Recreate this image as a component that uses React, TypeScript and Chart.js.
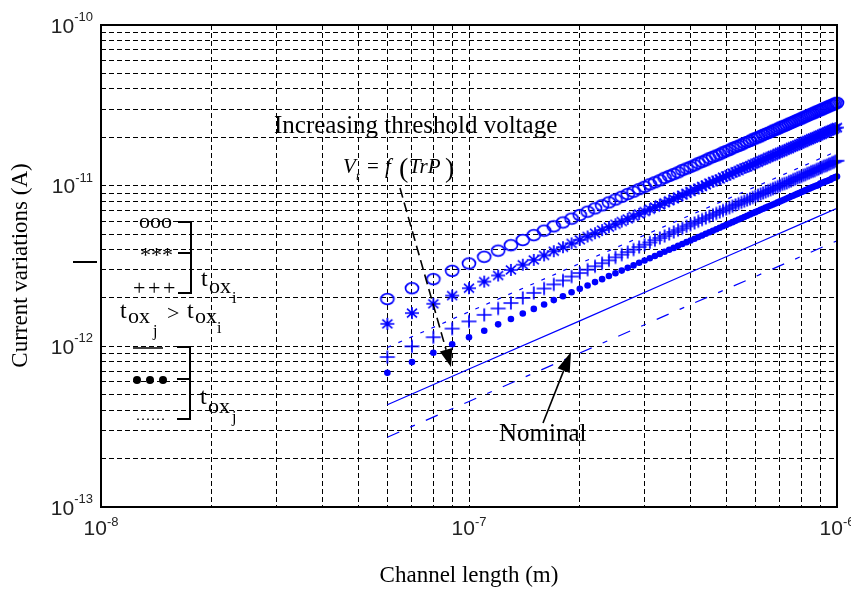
import React, { useEffect, useRef } from 'react';
import { Chart, registerables } from 'chart.js';

Chart.register(...registerables);

// ---- Data (channel length in nm, current in pA) ----
const channelLengthNm = [
  60, 70, 80, 90, 100, 110, 120, 130, 140, 150,
  160, 170, 180, 190, 200, 210, 220, 230, 240, 250,
  260, 270, 280, 290, 300, 310, 320, 330, 340, 350,
  360, 370, 380, 390, 400, 410, 420, 430, 440, 450,
  460, 470, 480, 490, 500, 510, 520, 530, 540, 550,
  560, 570, 580, 590, 600, 610, 620, 630, 640, 650,
  660, 670, 680, 690, 700, 710, 720, 730, 740, 750,
  760, 770, 780, 790, 800, 810, 820, 830, 840, 850,
  860, 870, 880, 890, 900, 910, 920, 930, 940, 950,
  960, 970, 980, 990, 1000,
];

const circlesPa = [
  1.97, 2.30, 2.62, 2.95, 3.28, 3.61, 3.94, 4.26, 4.59, 4.92,
  5.25, 5.58, 5.90, 6.23, 6.56, 6.89, 7.22, 7.54, 7.87, 8.20,
  8.53, 8.86, 9.18, 9.51, 9.84, 10.2, 10.5, 10.8, 11.2, 11.5,
  11.8, 12.1, 12.5, 12.8, 13.1, 13.4, 13.8, 14.1, 14.4, 14.8,
  15.1, 15.4, 15.7, 16.1, 16.4, 16.7, 17.1, 17.4, 17.7, 18.0,
  18.4, 18.7, 19.0, 19.4, 19.7, 20.0, 20.3, 20.7, 21.0, 21.3,
  21.6, 22.0, 22.3, 22.6, 23.0, 23.3, 23.6, 23.9, 24.3, 24.6,
  24.9, 25.3, 25.6, 25.9, 26.2, 26.6, 26.9, 27.2, 27.6, 27.9,
  28.2, 28.5, 28.9, 29.2, 29.5, 29.8, 30.2, 30.5, 30.8, 31.2,
  31.5, 31.8, 32.1, 32.5, 32.8,
];

const starsPa = [
  1.38, 1.61, 1.84, 2.07, 2.30, 2.53, 2.76, 2.99, 3.22, 3.45,
  3.68, 3.91, 4.14, 4.37, 4.60, 4.83, 5.06, 5.29, 5.52, 5.75,
  5.98, 6.21, 6.44, 6.67, 6.90, 7.13, 7.36, 7.59, 7.82, 8.05,
  8.28, 8.51, 8.74, 8.97, 9.20, 9.43, 9.66, 9.89, 10.1, 10.4,
  10.6, 10.8, 11.0, 11.3, 11.5, 11.7, 12.0, 12.2, 12.4, 12.7,
  12.9, 13.1, 13.3, 13.6, 13.8, 14.0, 14.3, 14.5, 14.7, 15.0,
  15.2, 15.4, 15.6, 15.9, 16.1, 16.3, 16.6, 16.8, 17.0, 17.3,
  17.5, 17.7, 17.9, 18.2, 18.4, 18.6, 18.9, 19.1, 19.3, 19.6,
  19.8, 20.0, 20.2, 20.5, 20.7, 20.9, 21.2, 21.4, 21.6, 21.9,
  22.1, 22.3, 22.5, 22.8, 23.0,
];

const plusPa = [
  0.858, 1.00, 1.14, 1.29, 1.43, 1.57, 1.72, 1.86, 2.00, 2.15,
  2.29, 2.43, 2.57, 2.72, 2.86, 3.00, 3.15, 3.29, 3.43, 3.58,
  3.72, 3.86, 4.00, 4.15, 4.29, 4.43, 4.58, 4.72, 4.86, 5.01,
  5.15, 5.29, 5.43, 5.58, 5.72, 5.86, 6.01, 6.15, 6.29, 6.44,
  6.58, 6.72, 6.86, 7.01, 7.15, 7.29, 7.44, 7.58, 7.72, 7.87,
  8.01, 8.15, 8.29, 8.44, 8.58, 8.72, 8.87, 9.01, 9.15, 9.30,
  9.44, 9.58, 9.72, 9.87, 10.0, 10.2, 10.3, 10.4, 10.6, 10.7,
  10.9, 11.0, 11.2, 11.3, 11.4, 11.6, 11.7, 11.9, 12.0, 12.2,
  12.3, 12.4, 12.6, 12.7, 12.9, 13.0, 13.2, 13.3, 13.4, 13.6,
  13.7, 13.9, 14.0, 14.2, 14.3,
];

const dotsPa = [
  0.684, 0.798, 0.912, 1.03, 1.14, 1.25, 1.37, 1.48, 1.60, 1.71,
  1.82, 1.94, 2.05, 2.17, 2.28, 2.39, 2.51, 2.62, 2.74, 2.85,
  2.96, 3.08, 3.19, 3.31, 3.42, 3.53, 3.65, 3.76, 3.88, 3.99,
  4.10, 4.22, 4.33, 4.45, 4.56, 4.67, 4.79, 4.90, 5.02, 5.13,
  5.24, 5.36, 5.47, 5.59, 5.70, 5.81, 5.93, 6.04, 6.16, 6.27,
  6.38, 6.50, 6.61, 6.73, 6.84, 6.95, 7.07, 7.18, 7.30, 7.41,
  7.52, 7.64, 7.75, 7.87, 7.98, 8.09, 8.21, 8.32, 8.44, 8.55,
  8.66, 8.78, 8.89, 9.01, 9.12, 9.23, 9.35, 9.46, 9.58, 9.69,
  9.80, 9.92, 10.0, 10.1, 10.3, 10.4, 10.5, 10.6, 10.7, 10.8,
  10.9, 11.1, 11.2, 11.3, 11.4,
];

const lineLengthNm = [60, 100, 200, 400, 600, 800, 1000];
const dashedPa = [0.984, 1.64, 3.28, 6.56, 9.84, 13.1, 16.4];
const nominalSolidPa = [0.433, 0.722, 1.44, 2.89, 4.33, 5.78, 7.22];
const nominalDashDotPa = [0.272, 0.454, 0.908, 1.82, 2.72, 3.63, 4.54];

// ---- Axes ----
const xMin = 1e-8;
const xMax = 1e-6;
const yMin = 1e-13;
const yMax = 1e-10;
const xTickValues = [1e-8, 1e-7, 1e-6];
const xTickExponents = ['-8', '-7', '-6'];
const yTickValues = [1e-13, 1e-12, 1e-11, 1e-10];
const yTickExponents = ['-13', '-12', '-11', '-10'];
const gridMultipliers = [1, 2, 3, 4, 5, 6, 7, 8, 9];
const xDecades = [1e-8, 1e-7];
const yDecades = [1e-13, 1e-12, 1e-11];

const xTitle = 'Channel length (m)';
const yTitle = 'Current variations (A)';

const NM = 1e-9;
const PA = 1e-12;

const SERIF = '"Liberation Serif", "Times New Roman", serif';
const SANS = '"Liberation Sans", Arial, sans-serif';
const BLUE = '#0000ff';

function gridTicks(decades: number[], last: number) {
  const out: { value: number }[] = [];
  decades.forEach((d) => gridMultipliers.forEach((m) => out.push({ value: m * d })));
  out.push({ value: last });
  return out;
}

function makeMarker(w: number, h: number, draw: (g: CanvasRenderingContext2D) => void) {
  const c = document.createElement('canvas');
  c.width = w;
  c.height = h;
  const g = c.getContext('2d')!;
  g.translate(w / 2, h / 2);
  g.strokeStyle = BLUE;
  g.fillStyle = BLUE;
  g.lineWidth = 1.7;
  draw(g);
  return c;
}

function txt(
  ctx: CanvasRenderingContext2D,
  s: string,
  x: number,
  y: number,
  size: number,
  opts: { italic?: boolean; family?: string; align?: CanvasTextAlign; color?: string } = {}
) {
  ctx.font = `${opts.italic ? 'italic ' : ''}${size}px ${opts.family || SERIF}`;
  ctx.textAlign = opts.align || 'left';
  ctx.textBaseline = 'alphabetic';
  ctx.fillStyle = opts.color || '#000';
  ctx.fillText(s, x, y);
}

function line(ctx: CanvasRenderingContext2D, pts: number[][], width = 2, dash: number[] = []) {
  ctx.save();
  ctx.strokeStyle = '#000';
  ctx.lineWidth = width;
  ctx.setLineDash(dash);
  ctx.beginPath();
  pts.forEach((p, i) => (i ? ctx.lineTo(p[0], p[1]) : ctx.moveTo(p[0], p[1])));
  ctx.stroke();
  ctx.restore();
}

function arrow(
  ctx: CanvasRenderingContext2D,
  x1: number,
  y1: number,
  x2: number,
  y2: number,
  dash: number[],
  headLen: number,
  headHalf: number
) {
  const ang = Math.atan2(y2 - y1, x2 - x1);
  const bx = x2 - headLen * Math.cos(ang);
  const by = y2 - headLen * Math.sin(ang);
  line(ctx, [[x1, y1], [bx, by]], 1.6, dash);
  ctx.save();
  ctx.fillStyle = '#000';
  ctx.beginPath();
  ctx.moveTo(x2, y2);
  ctx.lineTo(bx + headHalf * Math.sin(ang), by - headHalf * Math.cos(ang));
  ctx.lineTo(bx - headHalf * Math.sin(ang), by + headHalf * Math.cos(ang));
  ctx.closePath();
  ctx.fill();
  ctx.restore();
}

const overlay = {
  id: 'overlay',
  afterDraw(chart: any) {
    const ctx: CanvasRenderingContext2D = chart.ctx;
    const { left, right, top, bottom } = chart.chartArea;
    const xs = chart.scales.x;
    const ys = chart.scales.y;
    ctx.save();

    // axes box
    ctx.strokeStyle = '#000';
    ctx.lineWidth = 2;
    ctx.strokeRect(left, top, right - left, bottom - top);

    // tick labels
    const tickColor = '#222';
    xTickValues.forEach((v, i) => {
      const px = xs.getPixelForValue(v);
      ctx.font = `21px ${SANS}`;
      const bw = ctx.measureText('10').width;
      ctx.font = `13px ${SANS}`;
      const ew = ctx.measureText(xTickExponents[i]).width;
      const x0 = px - (bw + ew) / 2;
      txt(ctx, '10', x0, 535, 21, { family: SANS, color: tickColor });
      txt(ctx, xTickExponents[i], x0 + bw, 526, 13, { family: SANS, color: tickColor });
    });
    yTickValues.forEach((v, i) => {
      const py = ys.getPixelForValue(v);
      ctx.font = `21px ${SANS}`;
      const bw = ctx.measureText('10').width;
      ctx.font = `13px ${SANS}`;
      const ew = ctx.measureText(yTickExponents[i]).width;
      const x0 = 93 - bw - ew;
      txt(ctx, '10', x0, py + 7.5, 21, { family: SANS, color: tickColor });
      txt(ctx, yTickExponents[i], x0 + bw, py - 4, 13, { family: SANS, color: tickColor });
    });

    // axis titles
    txt(ctx, xTitle, (left + right) / 2, 582, 23, { align: 'center' });
    ctx.save();
    ctx.translate(27, 265.5);
    ctx.rotate(-Math.PI / 2);
    txt(ctx, yTitle, 0, 0, 23, { align: 'center' });
    ctx.restore();

    // annotations
    txt(ctx, 'Increasing threshold voltage', 274, 133, 25);
    txt(ctx, 'V', 343, 173, 21, { italic: true });
    txt(ctx, 't', 356, 180, 13, { italic: true });
    txt(ctx, '=', 367, 173, 21);
    txt(ctx, 'f', 385, 173, 21, { italic: true });
    txt(ctx, '(', 399, 177, 28);
    txt(ctx, 'TrP', 409, 173, 21, { italic: true });
    txt(ctx, ')', 445, 177, 28);
    arrow(ctx, 400, 188, 451, 367, [10, 5], 18, 6.5);

    txt(ctx, 'Nominal', 499, 441, 25);
    arrow(ctx, 543, 423, 571, 352, [], 20, 6.5);

    // legend group 1 (t_ox_i)
    txt(ctx, 'ooo', 139, 228, 22);
    txt(ctx, '***', 140, 262, 22);
    ['+', '+', '+'].forEach((c, i) => txt(ctx, c, 133 + i * 15, 295, 22));
    line(ctx, [[178, 222], [191, 222], [191, 293], [178, 293]]);
    line(ctx, [[178, 253], [191, 253]]);
    txt(ctx, 't', 201, 286, 24);
    txt(ctx, 'ox', 209, 293, 22);
    txt(ctx, 'i', 232, 303, 16);

    // t_ox_j > t_ox_i
    txt(ctx, 't', 120, 318, 24);
    txt(ctx, 'ox', 128, 323, 22);
    txt(ctx, 'j', 153, 336, 16);
    txt(ctx, '>', 167, 320, 22);
    txt(ctx, 't', 187, 318, 24);
    txt(ctx, 'ox', 195, 323, 22);
    txt(ctx, 'i', 217, 333, 16);

    // legend group 2 (t_ox_j)
    line(ctx, [[133, 348], [163, 348]], 1.5);
    ctx.fillStyle = '#000';
    [137, 150, 163].forEach((x) => {
      ctx.beginPath();
      ctx.arc(x, 380, 4, 0, Math.PI * 2);
      ctx.fill();
    });
    [138, 143, 148, 153, 158, 163].forEach((x) => ctx.fillRect(x - 0.75, 418.5, 1.5, 1.5));
    line(ctx, [[177, 347], [190, 347], [190, 419], [177, 419]]);
    line(ctx, [[177, 379], [190, 379]]);
    txt(ctx, 't', 200, 404, 24);
    txt(ctx, 'ox', 208, 413, 22);
    txt(ctx, 'j', 232, 422, 16);

    // stray mark left of axis
    line(ctx, [[73, 262], [97, 262]], 2);

    ctx.restore();
  },
};

export default function App() {
  const ref = useRef<HTMLCanvasElement>(null);

  useEffect(() => {
    const circleMarker = makeMarker(18, 16, (g) => {
      g.beginPath();
      g.ellipse(0, 0, 6.5, 5.3, 0, 0, Math.PI * 2);
      g.stroke();
    });
    const starMarker = makeMarker(18, 16, (g) => {
      g.beginPath();
      g.moveTo(-7, 0); g.lineTo(7, 0);
      g.moveTo(0, -6); g.lineTo(0, 6);
      g.moveTo(-5, -4.3); g.lineTo(5, 4.3);
      g.moveTo(-5, 4.3); g.lineTo(5, -4.3);
      g.stroke();
    });
    const plusMarker = makeMarker(18, 16, (g) => {
      g.beginPath();
      g.moveTo(-7.5, 0); g.lineTo(7.5, 0);
      g.moveTo(0, -6.5); g.lineTo(0, 6.5);
      g.stroke();
    });

    const pts = (xsNm: number[], ysPa: number[]) => xsNm.map((x, i) => ({ x: x * NM, y: ysPa[i] * PA }));
    const markerSet = (data: any, style: any, radius = 7, fill = false) => ({
      data,
      showLine: false,
      pointStyle: style,
      pointRadius: radius,
      pointHoverRadius: radius,
      pointBorderColor: BLUE,
      pointBackgroundColor: fill ? BLUE : 'rgba(0,0,0,0)',
      pointBorderWidth: fill ? 0 : 1.3,
      clip: false,
    });
    const lineSet = (data: any, dash: number[], width = 1.2) => ({
      data,
      showLine: true,
      borderColor: BLUE,
      borderWidth: width,
      borderDash: dash,
      pointRadius: 0,
      pointHoverRadius: 0,
      fill: false,
      tension: 0,
    });

    const chart = new Chart(ref.current!, {
      type: 'scatter',
      data: {
        datasets: [
          lineSet(pts(lineLengthNm, nominalSolidPa), []),
          lineSet(pts(lineLengthNm, nominalDashDotPa), [13, 12, 5, 12]),
          lineSet(pts(lineLengthNm, dashedPa), [4, 8], 1.2),
          markerSet(pts(channelLengthNm, dotsPa), 'circle', 3.3, true),
          markerSet(pts(channelLengthNm, plusPa), plusMarker),
          markerSet(pts(channelLengthNm, starsPa), starMarker),
          markerSet(pts(channelLengthNm, circlesPa), circleMarker),
        ] as any,
      },
      options: {
        animation: false,
        responsive: false,
        events: [],
        layout: { padding: { left: 0, right: 14, top: 25, bottom: 0 } },
        plugins: { legend: { display: false }, tooltip: { enabled: false } },
        scales: {
          x: {
            type: 'logarithmic',
            min: xMin,
            max: xMax,
            afterBuildTicks: (s: any) => {
              s.ticks = gridTicks(xDecades, xMax);
            },
            afterFit: (s: any) => {
              s.height = 83;
            },
            ticks: { callback: () => '', autoSkip: false, padding: 0, maxRotation: 0 },
            grid: { color: '#000', lineWidth: 1, drawTicks: false },
            border: { display: false, dash: [5, 3] },
          },
          y: {
            type: 'logarithmic',
            min: yMin,
            max: yMax,
            afterBuildTicks: (s: any) => {
              s.ticks = gridTicks(yDecades, yMax);
            },
            afterFit: (s: any) => {
              s.width = 101;
            },
            ticks: { callback: () => '', autoSkip: false, padding: 0 },
            grid: { color: '#000', lineWidth: 1, drawTicks: false },
            border: { display: false, dash: [5, 3] },
          },
        },
      } as any,
      plugins: [overlay],
    });
    return () => chart.destroy();
  }, []);

  return (
    <div style={{ position: 'absolute', left: 0, top: 0, width: 851, height: 590, background: '#fff' }}>
      <canvas ref={ref} width={851} height={590} style={{ display: 'block', width: 851, height: 590 }} />
    </div>
  );
}
